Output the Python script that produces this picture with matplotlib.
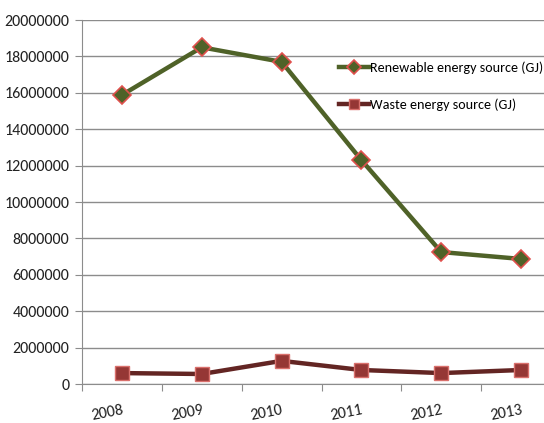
import matplotlib
matplotlib.use("Agg")
import matplotlib.pyplot as plt
from matplotlib import font_manager

years = ['2008', '2009', '2010', '2011', '2012', '2013']
renewable = [15880000, 18500000, 17700000, 12300000, 7250000, 6870000]
waste = [600000, 550000, 1270000, 770000, 600000, 770000]

# Calibri-like font if we have one
names = set(f.name for f in font_manager.fontManager.ttflist)
fam = 'DejaVu Sans'
for cand in ['Carlito', 'Liberation Sans Narrow', 'Open Sans Condensed', 'Roboto Condensed', 'PT Sans Narrow']:
    if cand in names:
        fam = cand
        break
plt.rcParams['font.family'] = [fam, 'DejaVu Sans']
fsz = 11.5 if fam != 'DejaVu Sans' else 8.5
lsz = 10.2 if fam != 'DejaVu Sans' else 7.5

fig = plt.figure(figsize=(5.44, 4.23), dpi=100)
ax = fig.add_axes([82 / 544, 39 / 423, 479 / 544, 364 / 423])

x = [i + 0.5 for i in range(len(years))]
ax.plot(x, renewable, color='#4f6228', lw=3.2, marker='D', ms=9,
        mfc='#4f6228', mec='#e0504d', mew=1.2, label='Renewable energy source (GJ)', zorder=3)
ax.plot(x, waste, color='#632523', lw=3.2, marker='s', ms=10,
        mfc='#953735', mec='#d9706c', mew=1.0, label='Waste energy source (GJ)', zorder=3)

ax.set_xlim(0, 6)
ax.set_ylim(0, 20000000)
ticks = list(range(0, 20000001, 2000000))
ax.set_yticks(ticks)
ax.set_yticklabels([str(v) for v in ticks], fontsize=fsz, color='#222222')
ax.yaxis.grid(True, color='#8c8c8c', lw=1)
ax.set_axisbelow(True)

ax.set_xticks(range(0, 7))
ax.set_xticklabels([])
ax.set_xticks(x, minor=True)
ax.set_xticklabels(years, minor=True, rotation=11, ha='right', rotation_mode='anchor',
                   fontsize=fsz, color='#222222')
ax.tick_params(axis='x', which='minor', length=0, pad=14)
ax.tick_params(axis='x', which='major', length=5, color='#8c8c8c', direction='out')
ax.tick_params(axis='y', length=5, color='#8c8c8c', pad=4)

for s in ['top', 'right']:
    ax.spines[s].set_visible(False)
ax.spines['left'].set_color('#8c8c8c')
ax.spines['bottom'].set_color('#8c8c8c')

ax.legend(loc='upper left', bbox_to_anchor=(257 / 479, 0.885), frameon=False,
          fontsize=lsz, labelspacing=1.7, handlelength=2.1, handletextpad=0.1,
          borderaxespad=0, borderpad=0, markerscale=0.75)

fig.savefig('out.png', dpi=100)
